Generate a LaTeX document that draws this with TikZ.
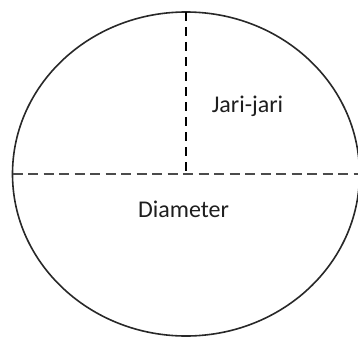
\documentclass[tikz,border=0pt]{standalone}
\usepackage{fontspec}
\setmainfont{Carlito}
\usetikzlibrary{shapes.geometric}
\definecolor{rimgray}{RGB}{40,40,40}
\definecolor{diagray}{RGB}{75,75,75}
\definecolor{labelgray}{RGB}{30,30,30}
\tikzset{
  rim/.style={draw=rimgray, line width=1.6pt, ellipse, outer sep=0pt, inner sep=0pt,
              minimum width=347pt, minimum height=324pt},
  diamline/.style={draw=diagray, line width=2.3pt, dash pattern=on 10pt off 5.5pt},
  radline/.style={draw=black, line width=1.6pt, dash pattern=on 9pt off 6pt},
  lbl/.style={font=\fontsize{24}{28}\selectfont, text=labelgray, anchor=base, inner sep=0pt}
}
\begin{document}
\begin{tikzpicture}[x=1pt, y=-1pt]
  \useasboundingbox (0,0) rectangle (358,337);
  \clip (0,0) rectangle (358,337);
  % circle
  \node[rim] (circ) at (186,174) {};
  % diameter and radius
  \draw[diamline] (circ.west) -- (circ.east);
  \draw[radline] (circ.north) -- (circ.center);
  % labels
  \node[lbl] (radlbl) at (247.5,112) {Jari-jari};
  \node[lbl] (diamlbl) at (183.5,217) {Diameter};
\end{tikzpicture}
\end{document}
